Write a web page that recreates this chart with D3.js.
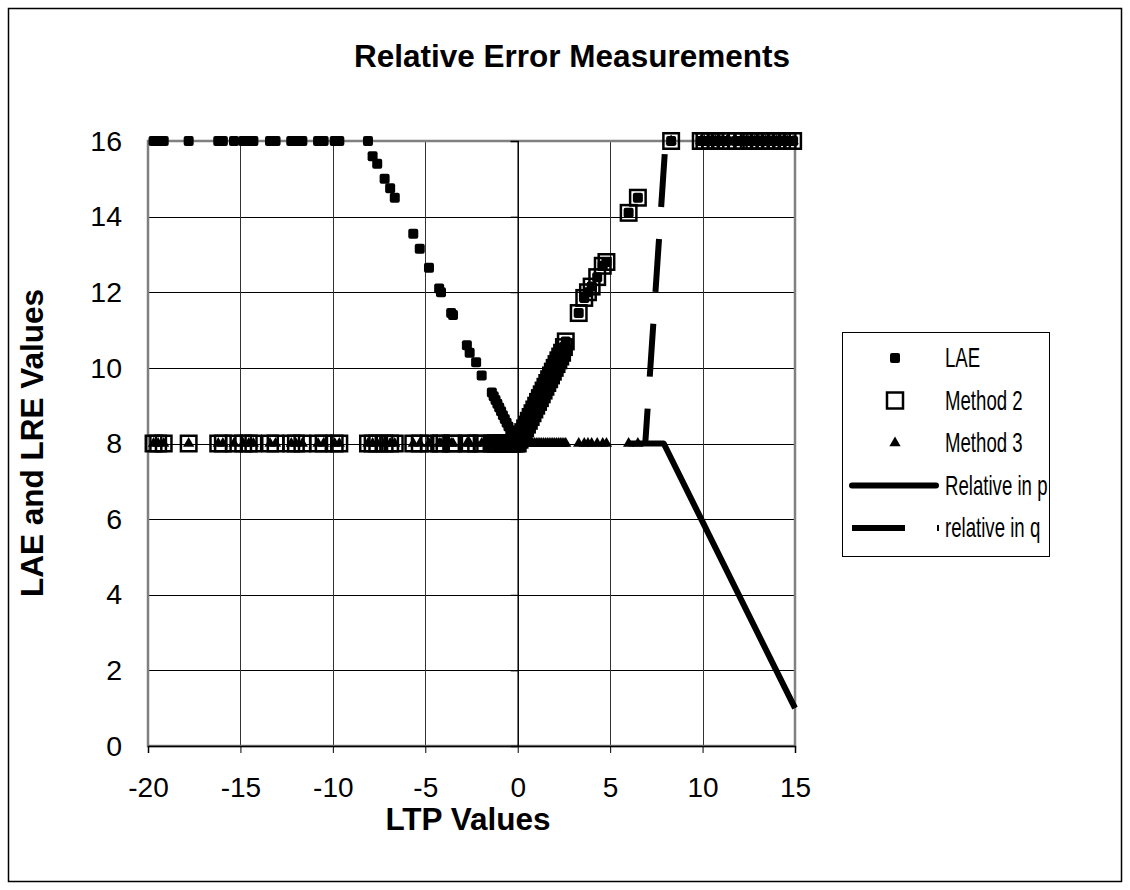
<!DOCTYPE html>
<html>
<head>
<meta charset="utf-8">
<script src="https://cdn.jsdelivr.net/npm/d3@7"></script>
<style>
  body { margin: 0; background: #fff; }
  svg { display: block; font-family: "Liberation Sans", Arial, sans-serif; }
</style>
</head>
<body>
<svg id="chart" width="1130" height="890"></svg>
<script>
// ---- data ----
const ltpValues = [
  // left plateau (19)
  -19.7, -19.45, -19.15, -17.8, -16.2, -15.95, -15.35, -14.85, -14.55, -14.3,
  -13.4, -13.1, -12.25, -12.0, -11.65, -10.8, -10.5, -9.9, -9.65,
  // left slope (32)
  -8.1, -7.85, -7.6, -7.2, -6.9, -6.65, -5.65, -5.3, -4.8, -4.25, -4.15, -3.6, -3.5,
  -2.75, -2.6, -2.25, -1.95, -1.4, -1.3, -1.2, -1.1, -1.0, -0.9, -0.8, -0.7, -0.6, -0.5,
  -0.4, -0.3, -0.2, -0.1, 0.0,
  // right slope (35)
  0.1, 0.2, 0.3, 0.4, 0.5, 0.6, 0.7, 0.8, 0.9, 1.0, 1.1, 1.2, 1.3, 1.4, 1.5, 1.6, 1.7,
  1.8, 1.9, 2.0, 2.1, 2.2, 2.3, 2.4, 2.5, 2.6, 3.3, 3.6, 3.8, 4.0, 4.3, 4.6, 4.8, 6.0, 6.5,
  // right plateau (18)
  8.3, 9.9, 10.1, 10.4, 10.7, 11.0, 11.3, 11.8, 12.2, 12.5, 12.8, 13.1, 13.4, 13.7, 14.0,
  14.3, 14.6, 14.9
];
const laeValues = [
  16, 16, 16, 16, 16, 16, 16, 16, 16, 16,
  16, 16, 16, 16, 16, 16, 16, 16, 16,
  16, 15.6, 15.4, 15.0, 14.75, 14.5, 13.55, 13.15, 12.65, 12.1, 12.0, 11.45, 11.4,
  10.6, 10.4, 10.15, 9.8, 9.35, 9.25, 9.15, 9.05, 8.95, 8.85, 8.75, 8.65, 8.55, 8.45,
  8.35, 8.25, 8.15, 8.05, 8.0,
  8.1, 8.2, 8.3, 8.4, 8.5, 8.6, 8.7, 8.8, 8.9, 9.0, 9.1, 9.2, 9.3, 9.4, 9.5, 9.6, 9.7,
  9.8, 9.9, 10.0, 10.1, 10.2, 10.3, 10.4, 10.55, 10.7, 11.45, 11.85, 12.0, 12.15, 12.4, 12.7, 12.8, 14.1, 14.5,
  16, 16, 16, 16, 16, 16, 16, 16, 16, 16, 16, 16, 16, 16, 16,
  16, 16, 16
];
const method2Values = [
  8, 8, 8, 8, 8, 8, 8, 8, 8, 8,
  8, 8, 8, 8, 8, 8, 8, 8, 8,
  8, 8, 8, 8, 8, 8, 8, 8, 8, 8, 8, 8, 8,
  8, 8, 8, 8, 8, 8, 8, 8, 8, 8, 8, 8, 8, 8,
  8, 8, 8, 8, 8,
  8.1, 8.2, 8.3, 8.4, 8.5, 8.6, 8.7, 8.8, 8.9, 9.0, 9.1, 9.2, 9.3, 9.4, 9.5, 9.6, 9.7,
  9.8, 9.9, 10.0, 10.1, 10.2, 10.3, 10.4, 10.55, 10.7, 11.45, 11.85, 12.0, 12.15, 12.4, 12.7, 12.8, 14.1, 14.5,
  16, 16, 16, 16, 16, 16, 16, 16, 16, 16, 16, 16, 16, 16, 16,
  16, 16, 16
];
const method3Values = [
  8, 8, 8, 8, 8, 8, 8, 8, 8, 8,
  8, 8, 8, 8, 8, 8, 8, 8, 8,
  8, 8, 8, 8, 8, 8, 8, 8, 8, 8, 8, 8, 8,
  8, 8, 8, 8, 8, 8, 8, 8, 8, 8, 8, 8, 8, 8,
  8, 8, 8, 8, 8,
  8, 8, 8, 8, 8, 8, 8, 8, 8, 8, 8, 8, 8, 8, 8, 8, 8,
  8, 8, 8, 8, 8, 8, 8, 8, 8, 8, 8, 8, 8, 8, 8, 8, 8, 8,
  16, 16, 16, 16, 16, 16, 16, 16, 16, 16, 16, 16, 16, 16, 16,
  16, 16, 16
];
const relativePX = [6.0, 7.9, 15.0];
const relativePY = [8.0, 8.0, 1.0];
const relativeQX = [6.9, 8.0];
const relativeQY = [8.0, 16.0];

const xTicks = [-20, -15, -10, -5, 0, 5, 10, 15];
const yTicks = [0, 2, 4, 6, 8, 10, 12, 14, 16];
const seriesNames = ["LAE", "Method 2", "Method 3", "Relative in p", "relative in q"];
const chartTitle = "Relative Error Measurements";
const xTitle = "LTP Values";
const yTitle = "LAE and LRE Values";

// ---- layout ----
const svg = d3.select("#chart");
const plot = { left: 148, right: 795, top: 141, bottom: 746 };
const x = d3.scaleLinear().domain([-20, 15]).range([plot.left, plot.right]);
const y = d3.scaleLinear().domain([0, 16]).range([plot.bottom, plot.top]);
const FONT = "Liberation Sans, Arial, sans-serif";

// outer frame
svg.append("rect").attr("x", 8.5).attr("y", 8.5).attr("width", 1113).attr("height", 873)
  .attr("fill", "#fff").attr("stroke", "#000").attr("stroke-width", 1.5);

// gridlines
const grid = svg.append("g");
grid.selectAll("line.h").data(yTicks.filter(d => d > 0 && d < 16)).join("line")
  .attr("x1", plot.left).attr("x2", plot.right)
  .attr("y1", d => Math.round(y(d)) + 0.5).attr("y2", d => Math.round(y(d)) + 0.5)
  .attr("stroke", "#000").attr("stroke-width", 1);
grid.selectAll("line.v").data(xTicks.filter(d => d > -20 && d < 15 && d !== 0)).join("line")
  .attr("y1", plot.top).attr("y2", plot.bottom)
  .attr("x1", d => Math.round(x(d)) + 0.5).attr("x2", d => Math.round(x(d)) + 0.5)
  .attr("stroke", "#333").attr("stroke-width", 1);

// plot area border
svg.append("rect").attr("x", plot.left).attr("y", plot.top)
  .attr("width", plot.right - plot.left).attr("height", plot.bottom - plot.top)
  .attr("fill", "none").attr("stroke", "#808080").attr("stroke-width", 2.5);

// x axis (at y = 0)
const xAxis = d3.axisBottom(x).tickValues(xTicks).tickSize(7).tickPadding(24)
  .tickFormat(d => String(d));
const gx = svg.append("g").attr("transform", `translate(0,${y(0)})`).call(xAxis);
gx.select(".domain").attr("stroke", "#000").attr("stroke-width", 1.5);
gx.selectAll(".tick line").attr("stroke", "#000");
gx.selectAll("text").attr("font-size", 28).attr("fill", "#000").attr("font-family", FONT);

// y axis: line at x = 0, labels at left edge
const yAxisLine = d3.axisLeft(y).tickValues(yTicks).tickSize(7).tickFormat("");
const gyl = svg.append("g").attr("transform", `translate(${x(0)},0)`).call(yAxisLine);
gyl.select(".domain").attr("stroke", "#000").attr("stroke-width", 1.5);
gyl.selectAll(".tick line").attr("stroke", "#000");

const yAxisLabels = d3.axisLeft(y).tickValues(yTicks).tickSize(0).tickPadding(26)
  .tickFormat(d => String(d));
const gy = svg.append("g").attr("transform", `translate(${plot.left},0)`).call(yAxisLabels);
gy.select(".domain").remove();
gy.selectAll("text").attr("font-size", 28.5).attr("fill", "#000").attr("font-family", FONT);

// series data
const pts = ltpValues.map((v, i) => ({ x: v, lae: laeValues[i], m2: method2Values[i], m3: method3Values[i] }));

// lines
const line = d3.line().x(d => x(d[0])).y(d => y(d[1]));
svg.append("path").datum(relativePX.map((v, i) => [v, relativePY[i]]))
  .attr("d", line).attr("fill", "none").attr("stroke", "#000").attr("stroke-width", 6)
  .attr("stroke-linejoin", "round");
svg.append("path").datum(relativeQX.map((v, i) => [v, relativeQY[i]]))
  .attr("d", line).attr("fill", "none").attr("stroke", "#000").attr("stroke-width", 6)
  .attr("stroke-dasharray", "53,32").attr("stroke-dashoffset", 18);

// markers
const tri = d3.symbol().type(d3.symbolTriangle).size(55);
svg.append("g").selectAll("path").data(pts).join("path")
  .attr("d", tri).attr("transform", d => `translate(${x(d.x)},${y(d.m3)})`)
  .attr("fill", "#000");
svg.append("g").selectAll("rect").data(pts).join("rect")
  .attr("x", d => x(d.x) - 7.75).attr("y", d => y(d.m2) - 7.75)
  .attr("width", 15.5).attr("height", 15.5)
  .attr("fill", "none").attr("stroke", "#000").attr("stroke-width", 2.5);
svg.append("g").selectAll("rect").data(pts).join("rect")
  .attr("x", d => x(d.x) - 5).attr("y", d => y(d.lae) - 5)
  .attr("width", 10).attr("height", 10).attr("rx", 2)
  .attr("fill", "#000");

// titles
svg.append("text").attr("x", 572).attr("y", 67).attr("text-anchor", "middle")
  .attr("font-size", 31.5).attr("font-weight", "bold").text(chartTitle);
svg.append("text").attr("x", 468).attr("y", 830).attr("text-anchor", "middle")
  .attr("font-size", 31.5).attr("font-weight", "bold").text(xTitle);
svg.append("text").attr("transform", "translate(43,443) rotate(-90)").attr("text-anchor", "middle")
  .attr("font-size", 31.5).attr("font-weight", "bold").text(yTitle);

// legend
const lg = svg.append("g");
const rowY = i => 358 + i * 42.5;
const textX = 945;
const condense = 0.69;
const legendBox = lg.append("rect").attr("x", 842.5).attr("y", 332.5).attr("height", 224)
  .attr("fill", "#fff").attr("stroke", "#000").attr("stroke-width", 1);
const texts = seriesNames.map((name, i) =>
  lg.append("text")
    .attr("transform", `translate(${textX},${rowY(i)}) scale(${condense},1)`)
    .attr("dy", "0.35em")
    .attr("font-size", 27).attr("font-family", FONT).text(name));
const maxW = d3.max(texts, t => t.node().getComputedTextLength()) * condense;
legendBox.attr("width", textX + maxW + 2 - 842.5);
lg.append("rect").attr("x", 895 - 5).attr("y", rowY(0) - 5).attr("width", 10).attr("height", 10).attr("rx", 2).attr("fill", "#000");
lg.append("rect").attr("x", 895 - 8).attr("y", rowY(1) - 8).attr("width", 16).attr("height", 16)
  .attr("fill", "none").attr("stroke", "#000").attr("stroke-width", 2.5);
lg.append("path").attr("d", tri).attr("transform", `translate(895,${rowY(2)})`).attr("fill", "#000");
lg.append("line").attr("x1", 852).attr("x2", 936).attr("y1", rowY(3)).attr("y2", rowY(3))
  .attr("stroke", "#000").attr("stroke-width", 6).attr("stroke-linecap", "round");
lg.append("line").attr("x1", 852).attr("x2", 939).attr("y1", rowY(4)).attr("y2", rowY(4))
  .attr("stroke", "#000").attr("stroke-width", 6).attr("stroke-dasharray", "53,32");
</script>
</body>
</html>
